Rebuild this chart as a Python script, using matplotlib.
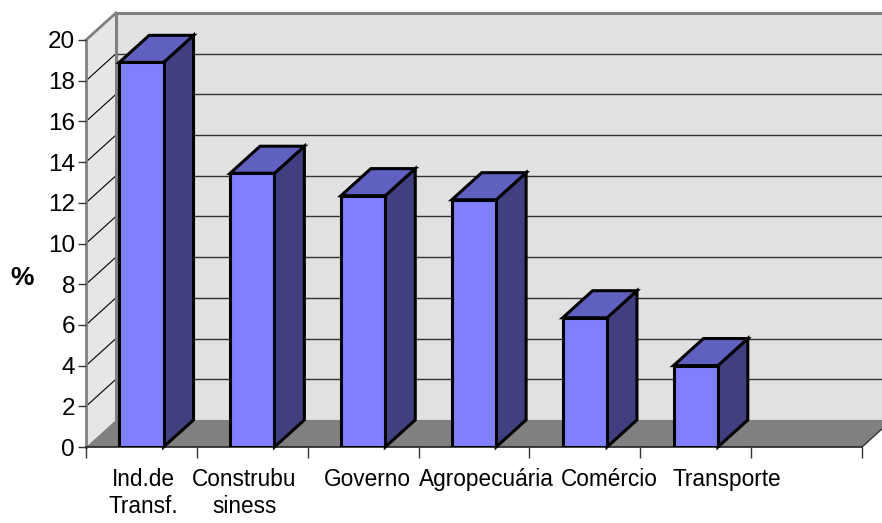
import matplotlib

matplotlib.use("Agg")
import matplotlib.pyplot as plt
from matplotlib.patches import Polygon

plt.rcParams["font.family"] = ["Liberation Sans", "DejaVu Sans"]

# data
categories = ["Ind.de\nTransf.", "Construbu\nsiness", "Governo", "Agropecuária",
              "Comércio", "Transporte", ""]
values = [18.9, 13.45, 12.35, 12.15, 6.35, 4.0]
yticks = list(range(0, 21, 2))

# where Excel put the category labels (category units)
label_pos = [0.52, 1.43, 2.535, 3.61, 4.725, 5.78, 6.5]

# style
FRONT = "#8080ff"
TOP = "#6060c0"
SIDE = "#404080"
WALL = "#e1e1e1"
LWALL = "#e6e6e6"
FLOOR = "#808080"
EDGE_GRAY = "#808080"
DX, DY = 0.27, 1.33     # depth of the 3-D box, in data units
BAR_W = 0.40

fig = plt.figure(figsize=(8.82, 5.23), dpi=100)
ax = fig.add_axes([86 / 882, 1 - 447 / 523, 776 / 882, 407 / 523])
n = len(categories)
ymax = yticks[-1]
ax.set_xlim(0, n)
ax.set_ylim(0, ymax)
for s in ax.spines.values():
    s.set_visible(False)
ax.patch.set_visible(False)


def poly(pts, fc, ec="none", lw=0, z=1):
    p = Polygon(pts, closed=True, facecolor=fc, edgecolor=ec, linewidth=lw,
                clip_on=False, zorder=z, joinstyle="miter")
    ax.add_patch(p)
    return p


# walls and floor
poly([(0, 0), (0, ymax), (DX, ymax + DY), (DX, DY)], LWALL, z=0.5)
poly([(DX, DY), (DX, ymax + DY), (n + DX + 1, ymax + DY), (n + DX + 1, DY)], WALL, z=0.5)
poly([(0, 0), (n, 0), (n + DX, DY), (DX, DY)], FLOOR, z=0.8)

# grid lines: back wall + left wall diagonals
for t in yticks[1:-1]:
    ax.plot([DX, n + DX + 1], [t + DY, t + DY], color="#333333", lw=1.0,
            clip_on=False, zorder=0.6)
    ax.plot([0, DX], [t, t + DY], color="black", lw=0.8, clip_on=False, zorder=0.6)

# wall edges
ax.plot([DX, DX], [DY, ymax + DY], color=EDGE_GRAY, lw=2.2, clip_on=False, zorder=0.7)
ax.plot([DX, n + DX + 1], [ymax + DY, ymax + DY], color=EDGE_GRAY, lw=2.2,
        clip_on=False, zorder=0.7)
ax.plot([0, DX], [ymax, ymax + DY], color=EDGE_GRAY, lw=2.0, clip_on=False, zorder=0.7)
ax.plot([0, 0], [0, ymax], color=EDGE_GRAY, lw=2.0, clip_on=False, zorder=0.9)
ax.plot([n, n + DX], [0, DY], color="#333333", lw=1.0, clip_on=False, zorder=0.9)
ax.plot([0, n], [0, 0], color="#222222", lw=1.2, clip_on=False, zorder=0.9)

# bars
xs = [i + 0.5 for i in range(len(values))]
ax.bar(xs, values, width=BAR_W, color=FRONT, edgecolor="black", linewidth=2.2, zorder=3)
for x, v in zip(xs, values):
    l, r = x - BAR_W / 2, x + BAR_W / 2
    poly([(r, 0), (r + DX, DY), (r + DX, v + DY), (r, v)], SIDE, "black", 2.2, z=2)
    poly([(l, v), (r, v), (r + DX, v + DY), (l + DX, v + DY)], TOP, "black", 2.2, z=2)

# ticks
ax.set_yticks(yticks)
ax.set_yticklabels([str(t) for t in yticks], fontsize=17.5)
ax.tick_params(axis="y", length=6, width=1, pad=2, color="#333333")
ax.set_xticks(range(n + 1))
ax.set_xticklabels([])
ax.tick_params(axis="x", which="major", length=8, width=1, color="#333333")
ax.set_xticks(label_pos, minor=True)
ax.set_xticklabels(categories, minor=True, fontsize=16.3, linespacing=1.25)
ax.tick_params(axis="x", which="minor", length=0, pad=15)

fig.text(22 / 882, 1 - 278 / 523, "%", fontsize=19, fontweight="bold",
         ha="center", va="center")

fig.savefig("out.png", dpi=100)
